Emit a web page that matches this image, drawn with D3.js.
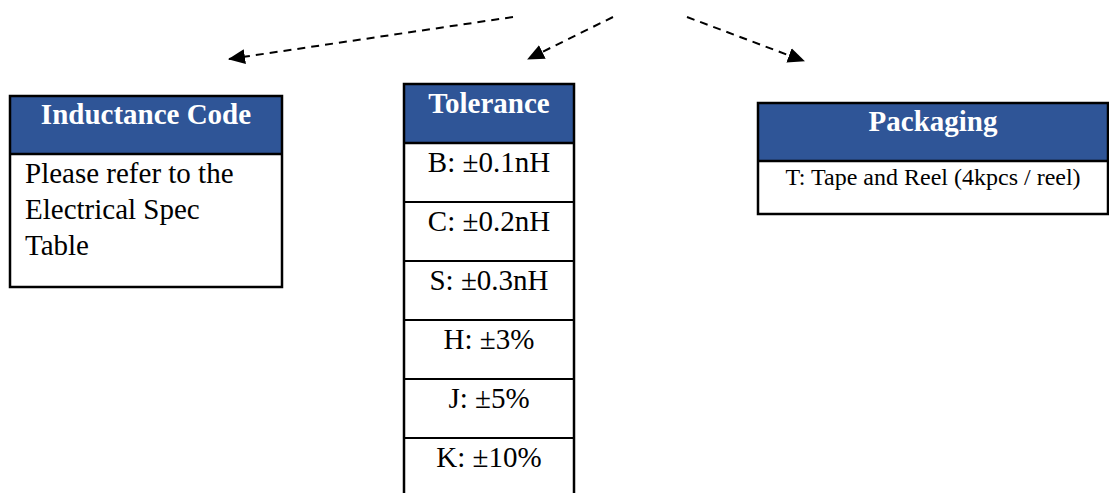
<!DOCTYPE html>
<meta charset="utf-8">
<title>Part number code</title>
<html>
<style>
body { margin: 0; background: #fff; }
svg { display: block; font-family: "Liberation Serif", "Times New Roman", serif; }
</style>
<body>
<svg width="1109" height="493"></svg>
<script src="https://cdn.jsdelivr.net/npm/d3@7"></script>
<script>
// headers of the three boxes
var headers = ["Inductance Code", "Tolerance", "Packaging"];
// text of the inductance code box
var inductanceLines = ["Please refer to the", "Electrical Spec", "Table"];
// tolerance codes and values
var tolCodes = ["B", "C", "S", "H", "J", "K"];
var tolValues = ["±0.1nH", "±0.2nH", "±0.3nH", "±3%", "±5%", "±10%"];
// packaging options
var packCodes = ["T"];
var packValues = ["Tape and Reel (4kpcs / reel)"];

var blue = "#2f5597";

var svg = d3.select("svg");

// box layout
var boxes = [
  {x: 10, y: 96, w: 272, head: 58, body: 133},
  {x: 404, y: 84, w: 170, head: 59, body: 354},
  {x: 758, y: 103, w: 350, head: 58, body: 53}
];

// arrows from the top to each box
var arrows = [
  {x1: 513, y1: 17, x2: 229, y2: 59},
  {x1: 613, y1: 17, x2: 528, y2: 59},
  {x1: 687, y1: 17, x2: 804, y2: 61}
];

svg.append("defs").append("marker")
  .attr("id", "tip")
  .attr("markerUnits", "userSpaceOnUse")
  .attr("markerWidth", 17)
  .attr("markerHeight", 16)
  .attr("viewBox", "0 0 17 16")
  .attr("refX", 16)
  .attr("refY", 8)
  .attr("orient", "auto")
  .append("path")
  .attr("d", "M0,0.5 L17,8 L0,15.5 Z")
  .attr("fill", "#000");

svg.selectAll("line.arrow")
  .data(arrows)
  .enter().append("line")
  .attr("class", "arrow")
  .attr("x1", function(d) { return d.x1; })
  .attr("y1", function(d) { return d.y1; })
  .attr("x2", function(d) { return d.x2; })
  .attr("y2", function(d) { return d.y2; })
  .attr("stroke", "#000")
  .attr("stroke-width", 2)
  .attr("stroke-dasharray", "8,6")
  .attr("marker-end", "url(#tip)");

var box = svg.selectAll("g.box")
  .data(headers)
  .enter().append("g")
  .attr("class", "box")
  .attr("transform", function(d, i) { return "translate(" + boxes[i].x + "," + boxes[i].y + ")"; });

box.append("rect")
  .attr("width", function(d, i) { return boxes[i].w; })
  .attr("height", function(d, i) { return boxes[i].head; })
  .attr("fill", blue);

box.append("rect")
  .attr("y", function(d, i) { return boxes[i].head; })
  .attr("width", function(d, i) { return boxes[i].w; })
  .attr("height", function(d, i) { return boxes[i].body; })
  .attr("fill", "#fff");

box.append("text")
  .attr("x", function(d, i) { return boxes[i].w / 2; })
  .attr("y", function(d, i) { return i == 1 ? 29 : 28; })
  .attr("text-anchor", "middle")
  .attr("font-weight", "bold")
  .attr("font-size", 29)
  .attr("fill", "#fff")
  .text(function(d) { return d; });

// inductance code text
var b0 = boxes[0];
box.filter(function(d, i) { return i == 0; })
  .selectAll("text.line")
  .data(inductanceLines)
  .enter().append("text")
  .attr("class", "line")
  .attr("x", 15)
  .attr("y", function(d, i) { return b0.head + 29 + i * 36; })
  .attr("font-size", 29)
  .attr("fill", "#000")
  .text(function(d) { return d; });

// tolerance rows
var b1 = boxes[1];
var yTol = d3.scaleBand()
  .domain(tolCodes)
  .range([b1.head, b1.head + 59 * tolCodes.length]);

var tolBox = box.filter(function(d, i) { return i == 1; });

tolBox.selectAll("line.row")
  .data(tolCodes)
  .enter().append("line")
  .attr("class", "row")
  .attr("x1", 0)
  .attr("x2", b1.w)
  .attr("y1", function(d) { return yTol(d); })
  .attr("y2", function(d) { return yTol(d); })
  .attr("stroke", "#000")
  .attr("stroke-width", 2);

tolBox.selectAll("text.row")
  .data(tolCodes)
  .enter().append("text")
  .attr("class", "row")
  .attr("x", b1.w / 2)
  .attr("y", function(d) { return yTol(d) + 28.5; })
  .attr("text-anchor", "middle")
  .attr("font-size", 29)
  .attr("fill", "#000")
  .text(function(d, i) { return d + ": " + tolValues[i]; });

// packaging rows
var b2 = boxes[2];
box.filter(function(d, i) { return i == 2; })
  .selectAll("text.row")
  .data(packCodes)
  .enter().append("text")
  .attr("class", "row")
  .attr("x", b2.w / 2)
  .attr("y", function(d, i) { return b2.head + 24 + i * 30; })
  .attr("text-anchor", "middle")
  .attr("font-size", 24)
  .attr("fill", "#000")
  .text(function(d, i) { return d + ": " + packValues[i]; });

// borders
box.append("line")
  .attr("x1", 0)
  .attr("x2", function(d, i) { return boxes[i].w; })
  .attr("y1", function(d, i) { return boxes[i].head; })
  .attr("y2", function(d, i) { return boxes[i].head; })
  .attr("stroke", "#000")
  .attr("stroke-width", 2.5);

box.append("rect")
  .attr("width", function(d, i) { return boxes[i].w; })
  .attr("height", function(d, i) { return boxes[i].head + boxes[i].body; })
  .attr("fill", "none")
  .attr("stroke", "#000")
  .attr("stroke-width", 2.5);
</script>
</body>
</html>
